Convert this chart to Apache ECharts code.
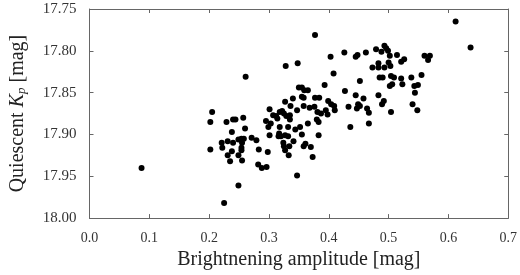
<!DOCTYPE html>
<html>
<head>
<meta charset="utf-8">
<script src="https://cdn.jsdelivr.net/npm/echarts@6/dist/echarts.min.js"></script>
<style>
  html, body { margin: 0; padding: 0; background: #fff; }
  #chart { width: 520px; height: 275px; }
</style>
</head>
<body>
<div id="chart"></div>
<script>
// brightening amplitude [mag] of each outburst
var amplitude = [
  0.087, 0.205, 0.202, 0.202, 0.229, 0.240, 0.244, 0.257, 0.238, 0.260,
  0.221, 0.222, 0.231, 0.240, 0.249, 0.254, 0.258, 0.255, 0.254, 0.254,
  0.238, 0.231, 0.249, 0.235, 0.255, 0.271, 0.279, 0.283, 0.298, 0.282,
  0.288, 0.296, 0.249, 0.225, 0.261, 0.328, 0.348, 0.377, 0.403, 0.408,
  0.393, 0.427, 0.350, 0.355, 0.359, 0.365, 0.355, 0.358, 0.340, 0.327,
  0.377, 0.384, 0.399, 0.404, 0.409, 0.336, 0.301, 0.318, 0.322, 0.325,
  0.307, 0.312, 0.314, 0.329, 0.335, 0.347, 0.358, 0.368, 0.376, 0.381,
  0.387, 0.395, 0.398, 0.410, 0.433, 0.295, 0.303, 0.299, 0.318, 0.335,
  0.380, 0.383, 0.365, 0.344, 0.352, 0.436, 0.332, 0.301, 0.317, 0.320,
  0.327, 0.332, 0.316, 0.355, 0.383, 0.341, 0.324, 0.325, 0.327, 0.334,
  0.361, 0.358, 0.370, 0.333, 0.373, 0.347, 0.426, 0.445, 0.448, 0.462,
  0.479, 0.488, 0.493, 0.496, 0.499, 0.502, 0.514, 0.526, 0.521, 0.483,
  0.483, 0.473, 0.493, 0.503, 0.500, 0.485, 0.490, 0.504, 0.509, 0.521,
  0.523, 0.538, 0.555, 0.452, 0.502, 0.506, 0.543, 0.549, 0.544, 0.560,
  0.569, 0.566, 0.612, 0.637, 0.445, 0.458, 0.483, 0.492, 0.489, 0.449,
  0.452, 0.447, 0.464, 0.467, 0.540, 0.548, 0.504, 0.467
];
// quiescent Kp [mag] of each outburst
var quiescentKp = [
  17.940, 17.873, 17.885, 17.918, 17.885, 17.882, 17.882, 17.880, 17.897, 17.893,
  17.910, 17.916, 17.908, 17.910, 17.906, 17.905, 17.905, 17.910, 17.916, 17.919,
  17.920, 17.925, 17.925, 17.932, 17.931, 17.904, 17.907, 17.918, 17.921, 17.936,
  17.940, 17.939, 17.961, 17.982, 17.831, 17.818, 17.815, 17.781, 17.807, 17.827,
  17.841, 17.848, 17.844, 17.844, 17.847, 17.847, 17.855, 17.856, 17.857, 17.861,
  17.856, 17.856, 17.860, 17.864, 17.866, 17.866, 17.870, 17.873, 17.872, 17.875,
  17.877, 17.878, 17.881, 17.878, 17.877, 17.871, 17.866, 17.868, 17.867, 17.873,
  17.875, 17.871, 17.876, 17.871, 17.867, 17.884, 17.887, 17.891, 17.891, 17.882,
  17.882, 17.885, 17.887, 17.894, 17.891, 17.891, 17.891, 17.901, 17.899, 17.902,
  17.901, 17.902, 17.902, 17.900, 17.901, 17.908, 17.910, 17.914, 17.919, 17.914,
  17.911, 17.914, 17.915, 17.925, 17.927, 17.949, 17.802, 17.807, 17.805, 17.802,
  17.798, 17.801, 17.794, 17.797, 17.800, 17.806, 17.805, 17.810, 17.813, 17.815,
  17.820, 17.820, 17.820, 17.818, 17.814, 17.832, 17.832, 17.830, 17.832, 17.833,
  17.840, 17.832, 17.829, 17.836, 17.842, 17.840, 17.842, 17.841, 17.850, 17.806,
  17.806, 17.811, 17.765, 17.796, 17.853, 17.857, 17.853, 17.860, 17.864, 17.864,
  17.866, 17.869, 17.869, 17.874, 17.864, 17.871, 17.873, 17.887
];

var points = amplitude.map(function (a, i) { return [a, quiescentKp[i]]; });

var font = "'Liberation Serif', 'Times New Roman', serif";
var frameColor = '#666';
var labelColor = '#333';

var chart = echarts.init(document.getElementById('chart'));
var option = {
  animation: false,
  textStyle: { fontFamily: font },
  grid: {
    left: 83,
    right: 11,
    top: 9,
    bottom: 54
  },
  xAxis: [
    {
      type: 'value',
      min: 0,
      max: 0.7,
      interval: 0.1,
      name: 'Brightnening amplitude [mag]',
      nameLocation: 'middle',
      nameGap: 27,
      nameTextStyle: { fontFamily: font, fontSize: 20, color: '#222' },
      axisLine: { onZero: false, lineStyle: { color: frameColor, width: 1 } },
      axisTick: { inside: true, length: 4, lineStyle: { color: frameColor } },
      axisLabel: {
        fontFamily: font,
        fontSize: 14,
        color: labelColor,
        margin: 13,
        formatter: function (v) { return v.toFixed(1); }
      },
      splitLine: { show: false }
    },
    {
      type: 'value',
      position: 'top',
      min: 0,
      max: 0.7,
      interval: 0.1,
      axisLine: { onZero: false, lineStyle: { color: frameColor, width: 1 } },
      axisTick: { inside: true, length: 4, lineStyle: { color: frameColor } },
      axisLabel: { show: false },
      splitLine: { show: false }
    }
  ],
  yAxis: [
    {
      type: 'value',
      inverse: true,
      min: 17.75,
      max: 18.0,
      interval: 0.05,
      name: '{n|Quiescent }{k|K}{p|p}{n| [mag]}',
      nameLocation: 'middle',
      nameGap: 61,
      nameTextStyle: {
        fontFamily: font,
        color: '#222',
        rich: {
          n: { fontFamily: font, fontSize: 20, color: '#222' },
          k: { fontFamily: font, fontSize: 20, fontStyle: 'italic', color: '#222' },
          p: { fontFamily: font, fontSize: 13, fontStyle: 'italic', color: '#222', padding: [8, 0, 0, 0] }
        }
      },
      axisLine: { onZero: false, lineStyle: { color: frameColor, width: 1 } },
      axisTick: { inside: true, length: 4, lineStyle: { color: frameColor } },
      axisLabel: {
        fontFamily: font,
        fontSize: 15,
        color: labelColor,
        margin: 13,
        formatter: function (v) { return v.toFixed(2); }
      },
      splitLine: { show: false }
    },
    {
      type: 'value',
      position: 'right',
      inverse: true,
      min: 17.75,
      max: 18.0,
      interval: 0.05,
      axisLine: { onZero: false, lineStyle: { color: frameColor, width: 1 } },
      axisTick: { inside: true, length: 4, lineStyle: { color: frameColor } },
      axisLabel: { show: false },
      splitLine: { show: false }
    }
  ],
  series: [
    {
      type: 'scatter',
      xAxisIndex: 0,
      yAxisIndex: 0,
      symbol: 'circle',
      symbolSize: 6,
      itemStyle: { color: '#000', opacity: 1 },
      data: points
    }
  ]
};
chart.setOption(option);
</script>
</body>
</html>
